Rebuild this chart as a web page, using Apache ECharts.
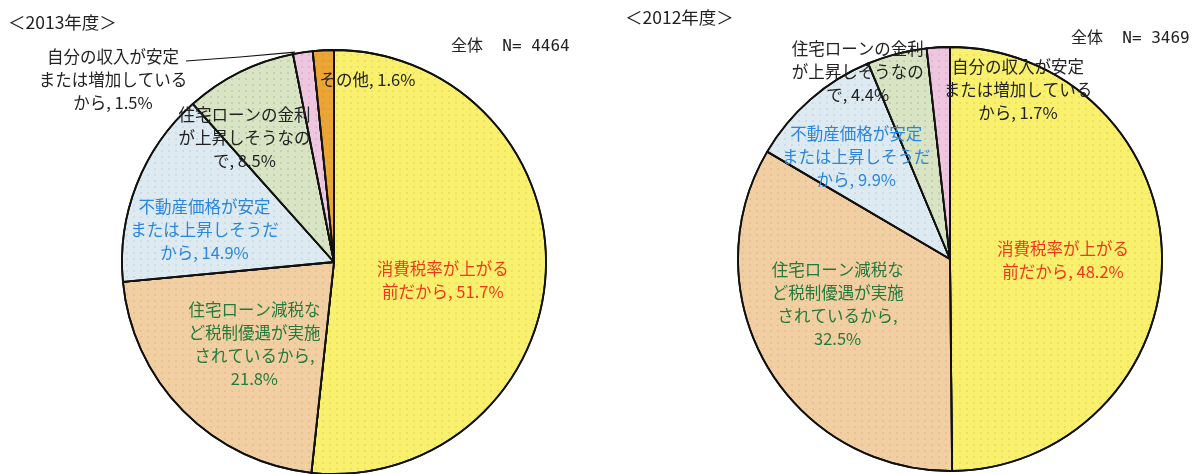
<!DOCTYPE html>
<html>
<head>
<meta charset="utf-8">
<script src="https://cdn.jsdelivr.net/npm/echarts@6/dist/echarts.min.js"></script>
<style>
  html, body { margin: 0; padding: 0; background: #ffffff; }
  #chart { width: 1195px; height: 474px; }
</style>
</head>
<body>
<div id="chart"></div>
<script>
// 2013年度
const names2013 = [
  '消費税率が上がる\n前だから',
  '住宅ローン減税な\nど税制優遇が実施\nされているから',
  '不動産価格が安定\nまたは上昇しそうだ\nから',
  '住宅ローンの金利\nが上昇しそうなの\nで',
  '自分の収入が安定\nまたは増加している\nから',
  'その他'
];
const values2013 = [51.7, 21.8, 14.9, 8.5, 1.5, 1.6];
const total2013 = 4464;

// 2012年度
const names2012 = [
  '消費税率が上がる\n前だから',
  '住宅ローン減税な\nど税制優遇が実施\nされているから',
  '不動産価格が安定\nまたは上昇しそうだ\nから',
  '住宅ローンの金利\nが上昇しそうなの\nで',
  '自分の収入が安定\nまたは増加している\nから'
];
const values2012 = [48.2, 32.5, 9.9, 4.4, 1.7];
const total2012 = 3469;

// 色 (カテゴリ順)
const fillColors = ['#F9F06E', '#F2CFA3', '#DDEAF1', '#D9E4C5', '#EEC6DF', '#EBA535'];
const dotColors = ['rgba(170,150,30,0.45)', 'rgba(160,110,60,0.35)', 'rgba(110,130,150,0.35)',
                   'rgba(90,110,60,0.45)', 'rgba(150,90,130,0.4)', 'rgba(150,90,20,0.3)'];
const labelColors = ['#EE3A1C', '#237A3C', '#2A86DA', '#222222', '#222222', '#222222'];

// ラベルのずらし量 (ECharts の inside 位置からの dx, dy)
const shift2013 = [[0, 12], [-2, 6], [-28, 8], [-41, -27], null, [39, -73]];
const shift2012 = [[4, 2], [-18, -9], [-22, -20], [-65, -82], [74, -60]];

const FONT = '"Noto Sans CJK JP", "Noto Sans", sans-serif';
const MONO = '"DejaVu Sans Mono", "Noto Sans CJK JP", monospace';

const chart = echarts.init(document.getElementById('chart'), null, { renderer: 'canvas' });

function buildData(names, values) {
  return names.map((n, i) => ({
    name: n,
    value: values[i],
    itemStyle: {
      color: fillColors[i],
      decal: {
        symbol: 'circle',
        symbolSize: 0.7,
        color: dotColors[i],
        dashArrayX: [[2, 5]],
        dashArrayY: [2, 4],
        rotation: 0
      }
    },
    label: { color: labelColors[i] }
  }));
}

function labelText(p) {
  // 減税の項目だけ数値を改行
  const sep = p.dataIndex === 1 ? '\n' : ' ';
  return p.name + ',' + sep + p.value.toFixed(1) + '%';
}

function pieSeries(names, values, center, shifts) {
  return {
    type: 'pie',
    center: center,
    radius: 212,
    startAngle: 90,
    clockwise: true,
    avoidLabelOverlap: false,
    animation: false,
    itemStyle: { borderColor: '#111111', borderWidth: 1.8 },
    label: {
      show: true,
      position: 'inside',
      formatter: labelText,
      fontFamily: FONT,
      fontSize: 16.5,
      lineHeight: 23,
      align: 'center'
    },
    labelLine: { show: false },
    emphasis: { disabled: true },
    labelLayout: function (params) {
      const s = shifts[params.dataIndex];
      if (s) return { dx: s[0], dy: s[1] };
      return {};
    },
    data: buildData(names, values)
  };
}

const s2013 = pieSeries(names2013, values2013, [334, 262], shift2013);
// 「自分の収入」だけ引き出し線つきの外側ラベル
s2013.data[4].label = { position: 'outside', color: labelColors[4] };
s2013.data[4].labelLine = { show: true, lineStyle: { color: '#111', width: 1.2 } };
s2013.labelLayout = function (params) {
  if (params.dataIndex === 4) {
    const r = params.rect; // 扇形の外接矩形
    return {
      x: 113, y: 80, align: 'center', verticalAlign: 'middle',
      labelLinePoints: [[r.x + 3, r.y + 2], [240, 57], [186, 61]]
    };
  }
  const s = shift2013[params.dataIndex];
  return s ? { dx: s[0], dy: s[1] } : {};
};

const s2012 = pieSeries(names2012, values2012, [950, 259], shift2012);

const option = {
  backgroundColor: '#ffffff',
  title: [
    { text: '＜2013年度＞', left: 3, top: 9, textStyle: { fontFamily: FONT, fontSize: 17.5, fontWeight: 'normal', color: '#222' } },
    { text: '全体  N= ' + total2013, left: 446, top: 34, textStyle: { fontFamily: MONO, fontSize: 16, fontWeight: 'normal', color: '#222' } },
    { text: '＜2012年度＞', left: 620, top: 4, textStyle: { fontFamily: FONT, fontSize: 17.5, fontWeight: 'normal', color: '#222' } },
    { text: '全体  N= ' + total2012, left: 1066, top: 26, textStyle: { fontFamily: MONO, fontSize: 16, fontWeight: 'normal', color: '#222' } }
  ],
  series: [s2013, s2012]
};

chart.setOption(option);
</script>
</body>
</html>
